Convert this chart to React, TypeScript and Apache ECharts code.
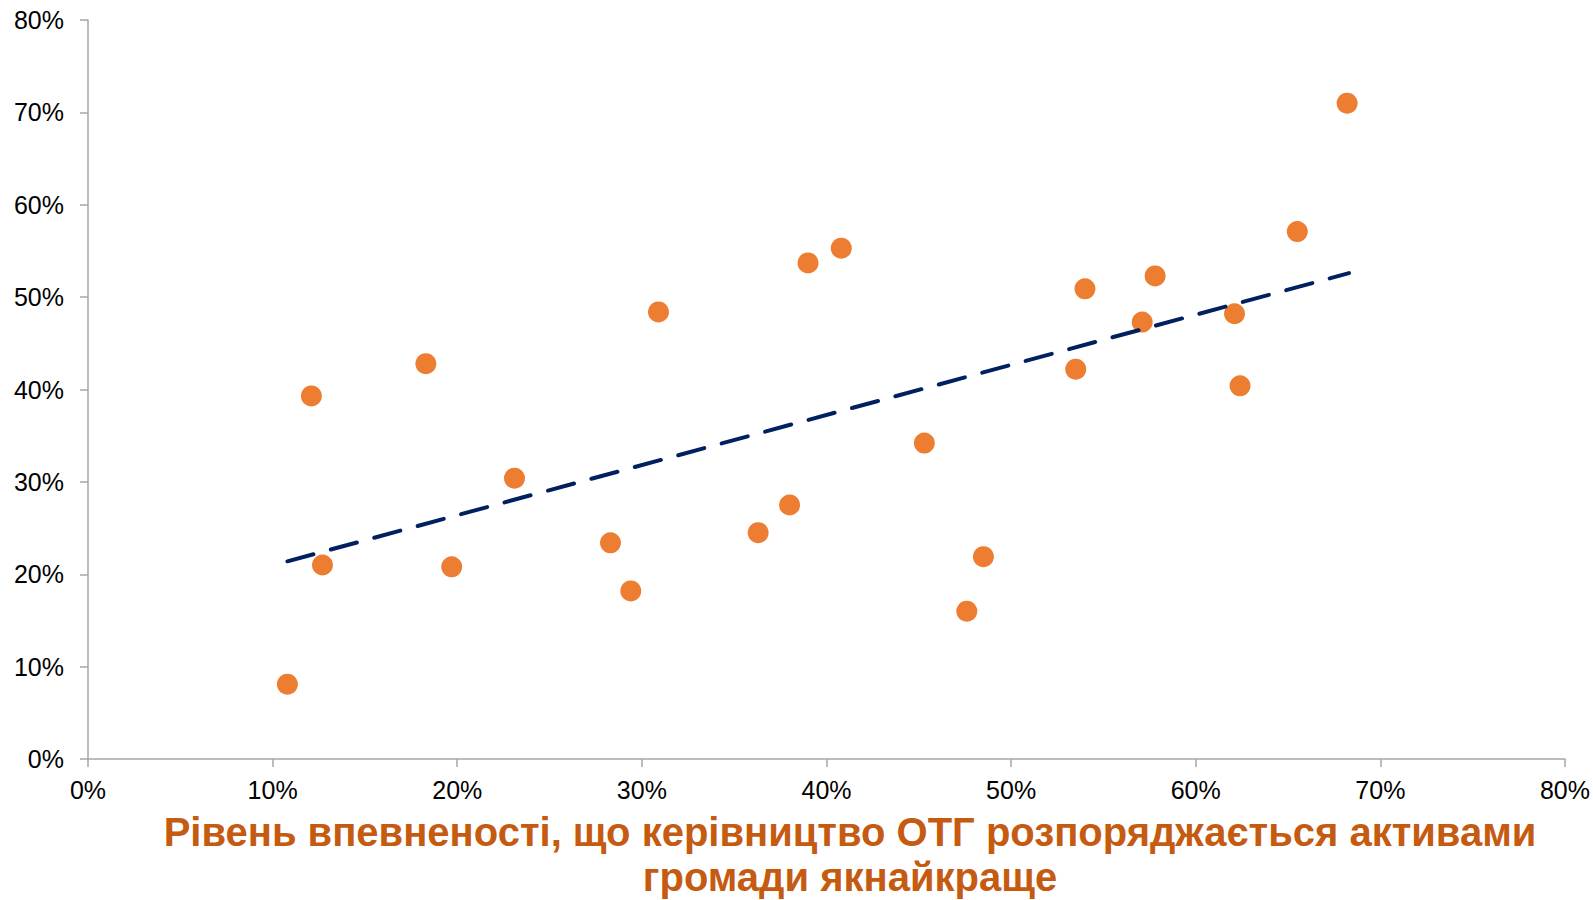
import React, { useEffect, useRef } from "react";
import * as echarts from "echarts";

const xValues = [10.8, 12.1, 12.7, 18.3, 19.7, 23.1, 28.3, 29.4, 30.9, 36.3, 38.0, 39.0, 40.8, 45.3, 47.6, 48.5, 53.5, 54.0, 57.1, 57.8, 62.1, 62.4, 65.5, 68.2];
const yValues = [8.1, 39.3, 21.0, 42.8, 20.8, 30.4, 23.4, 18.2, 48.4, 24.5, 27.5, 53.7, 55.3, 34.2, 16.0, 21.9, 42.2, 50.9, 47.3, 52.3, 48.2, 40.4, 57.1, 71.0];
const trendX = [10.8, 68.3];
const trendY = [21.4, 52.6];
const titleLine1 = "Рівень впевненості, що керівництво ОТГ розпоряджається активами";
const titleLine2 = "громади якнайкраще";

export default function App() {
  const ref = useRef<HTMLDivElement>(null);
  useEffect(() => {
    if (!ref.current) return;
    const chart = echarts.init(ref.current, undefined, { renderer: "svg" });
    const font = "'Liberation Sans', Arial, Helvetica, sans-serif";
    const axisCommon = {
      type: "value" as const,
      min: 0,
      max: 80,
      interval: 10,
      splitLine: { show: false },
      axisLine: { show: true, lineStyle: { color: "#A6A6A6", width: 1.5 } },
      axisTick: { show: true, inside: false, length: 8, lineStyle: { color: "#A6A6A6", width: 1.5 } },
    };
    chart.setOption({
      animation: false,
      backgroundColor: "#ffffff",
      textStyle: { fontFamily: font },
      grid: { left: 88, right: 23, top: 20, bottom: 141, containLabel: false },
      xAxis: {
        ...axisCommon,
        axisLabel: { formatter: "{value}%", color: "#000", fontSize: 25, fontFamily: font, margin: 18 },
      },
      yAxis: {
        ...axisCommon,
        axisLabel: { formatter: "{value}%", color: "#000", fontSize: 25, fontFamily: font, margin: 24 },
      },
      graphic: [
        {
          type: "text",
          x: 850,
          y: 832,
          style: {
            text: titleLine1,
            fill: "#C55A11",
            font: `bold 40px ${font}`,
            textAlign: "center",
            textVerticalAlign: "middle",
          },
        },
        {
          type: "text",
          x: 850,
          y: 877,
          style: {
            text: titleLine2,
            fill: "#C55A11",
            font: `bold 40px ${font}`,
            textAlign: "center",
            textVerticalAlign: "middle",
          },
        },
      ],
      series: [
        {
          type: "line",
          data: trendX.map((x, i) => [x, trendY[i]]),
          symbol: "none",
          silent: true,
          z: 3,
          lineStyle: { color: "#002060", width: 4, type: [27, 18], cap: "round" },
        },
        {
          type: "scatter",
          data: xValues.map((x, i) => [x, yValues[i]]),
          symbol: "circle",
          symbolSize: 21,
          z: 2,
          itemStyle: { color: "#ED7D31", opacity: 1 },
        },
      ],
    });
    return () => chart.dispose();
  }, []);
  return (
    <div
      ref={ref}
      style={{ position: "fixed", left: 0, top: 0, width: 1593, height: 900, background: "#fff" }}
    />
  );
}
